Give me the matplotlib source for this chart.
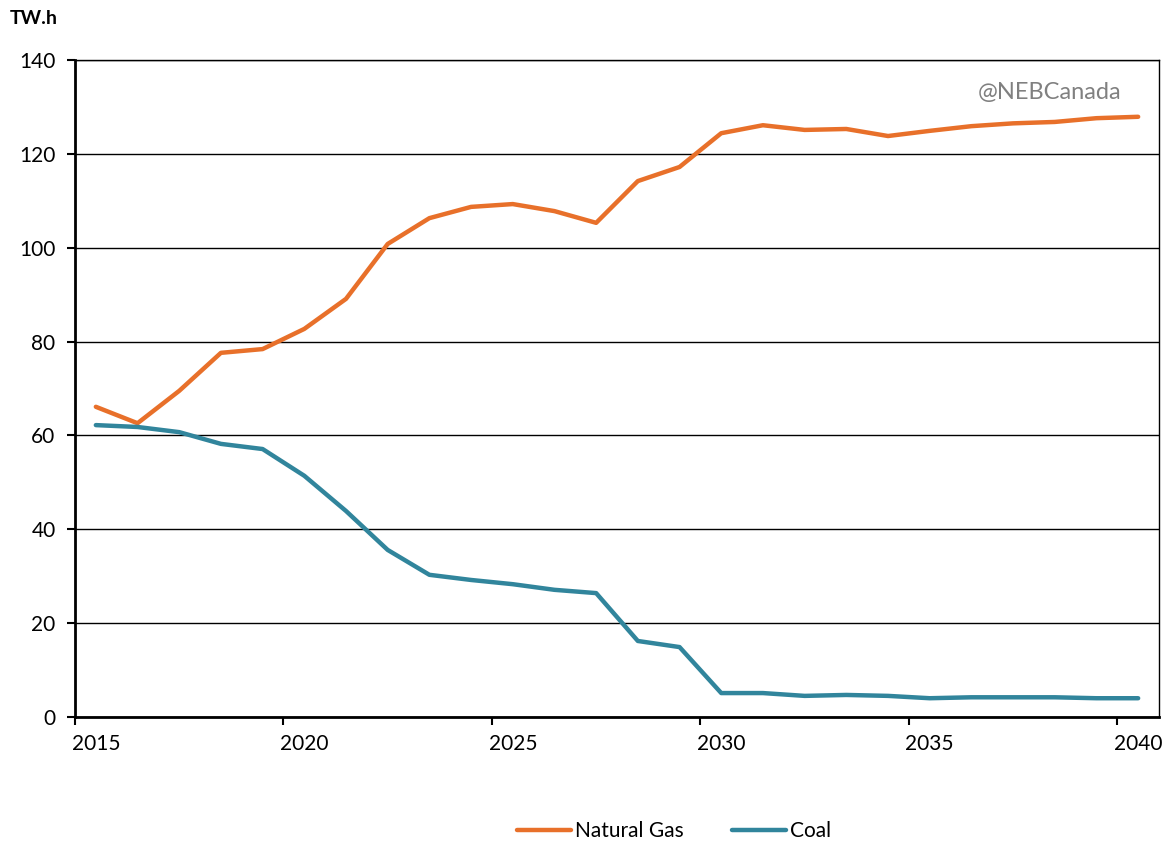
import matplotlib
matplotlib.use("Agg")
import matplotlib.pyplot as plt
from matplotlib.ticker import FixedLocator, NullFormatter

years = list(range(2015, 2041))
natural_gas = [66.1, 62.6, 69.5, 77.6, 78.4, 82.7, 89.1, 100.8, 106.3, 108.7, 109.3, 107.8, 105.3,
               114.2, 117.2, 124.4, 126.1, 125.1, 125.3, 123.8, 124.9, 125.9, 126.5, 126.8, 127.6, 127.9]
coal = [62.2, 61.8, 60.7, 58.2, 57.1, 51.4, 43.9, 35.6, 30.3, 29.2, 28.3, 27.1, 26.4,
        16.2, 14.9, 5.1, 5.1, 4.5, 4.7, 4.5, 4.0, 4.2, 4.2, 4.2, 4.0, 4.0]
label_years = [2015, 2020, 2025, 2030, 2035, 2040]
y_ticks = [0, 20, 40, 60, 80, 100, 120, 140]

plt.rcParams['font.family'] = ['Lato', 'DejaVu Sans']

fig = plt.figure(figsize=(11.68, 8.44), dpi=100)
ax = fig.add_axes([75/1168, 1-717/844, (1159-75)/1168, (717-60)/844])

ax.plot(years, natural_gas, color='#E8702A', lw=3.2, solid_capstyle='round', label='Natural Gas', zorder=3)
ax.plot(years, coal, color='#31859C', lw=3.2, solid_capstyle='round', label='Coal', zorder=3)

ax.set_xlim(years[0]-0.5, years[-1]+0.5)
ax.set_ylim(0, 140)
ax.set_yticks(y_ticks)
ax.set_yticklabels([str(v) for v in y_ticks], fontsize=15)
ax.yaxis.grid(True, color='black', lw=1)
ax.set_axisbelow(True)

# major ticks at category boundaries, labels at category centers
ax.xaxis.set_major_locator(FixedLocator([y - 0.5 for y in label_years]))
ax.xaxis.set_major_formatter(NullFormatter())
ax.xaxis.set_minor_locator(FixedLocator(label_years))
ax.set_xticklabels([str(y) for y in label_years], minor=True, fontsize=15)
ax.tick_params(axis='x', which='major', length=6, width=1.5, direction='out')
ax.tick_params(axis='x', which='minor', length=0, pad=12)
ax.tick_params(axis='y', length=6, width=1.5, direction='out', pad=8)

for s in ['left', 'bottom']:
    ax.spines[s].set_linewidth(2)
for s in ['right', 'top']:
    ax.spines[s].set_linewidth(1)

fig.text(10/1168, 1-18/844, 'TW.h', fontsize=14, fontweight='bold', va='center', ha='left')
ax.text(0.965, 0.967, '@NEBCanada', transform=ax.transAxes, fontsize=17, color='#808080',
        ha='right', va='top')

fig.legend(loc='center', bbox_to_anchor=(674/1168, 1-831/844), ncol=2, frameon=False,
           fontsize=15, handlelength=2.6, handletextpad=0.2, columnspacing=2.3)

fig.savefig('out.png', dpi=100)
